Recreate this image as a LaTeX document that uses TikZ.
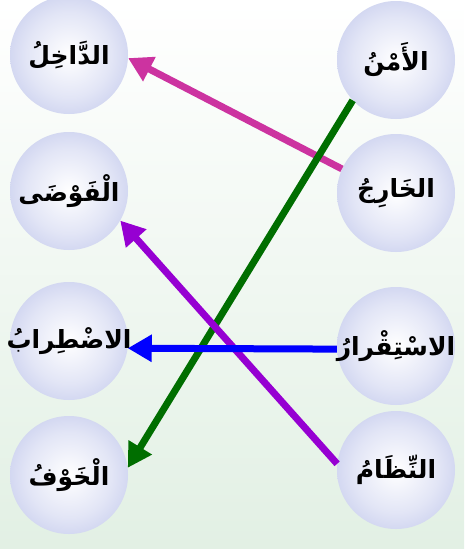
\documentclass[tikz,border=0pt]{standalone}
\usepackage{fontspec}
\newfontfamily\arabicfont[Script=Arabic]{DejaVu Sans}
\TeXXeTstate=1
\usetikzlibrary{arrows.meta}
\definecolor{bubblelav}{RGB}{160,170,225}
\definecolor{bgreen}{RGB}{226,240,228}
\definecolor{linkmagenta}{RGB}{204,51,160}
\definecolor{linkgreen}{RGB}{0,110,0}
\definecolor{linkpurple}{RGB}{150,0,210}
\definecolor{linkblue}{RGB}{0,0,255}
\pgfdeclareradialshading{bubble}{\pgfpoint{0bp}{0bp}}{color(0bp)=(white); color(18bp)=(bubblelav!30); color(38bp)=(bubblelav!75); color(50bp)=(bubblelav)}

\begin{document}
\begin{tikzpicture}[
        x=1pt, y=-1pt,
        word/.style={circle, minimum size=118pt, inner sep=-20pt, shading=bubble, font=\arabicfont\bfseries\fontsize{25}{29}\selectfont},
        arrow/.style={-{Triangle[length=24pt,width=26pt]}, line width=7pt}
    ]
        \useasboundingbox (0,0) rectangle (464,549);
        % Background
        \fill[top color=white, bottom color=bgreen] (0,0) rectangle (464,549);

        % Left column
        \node[word] (dakhil) at (69,55) {\beginR الدَّاخِلُ\endR};
        \node[word] (fawda) at (69,191) {\beginR الْفَوْضَى\endR};
        \node[word] (idtirab) at (69,341) {\beginR الاضْطِرابُ\endR};
        \node[word] (khawf) at (69,475) {\beginR الْخَوْفُ\endR};

        % Right column
        \node[word] (amn) at (396,60) {\beginR الأَمْنُ\endR};
        \node[word] (kharij) at (396,193) {\beginR الخَارِجُ\endR};
        \node[word] (istiqrar) at (396,346) {\beginR الاسْتِقْرارُ\endR};
        \node[word] (nizam) at (396,470) {\beginR النِّظَامُ\endR};

        % Links
        \draw[arrow, linkmagenta] (kharij.156) -- (dakhil.-3);
        \draw[arrow, linkgreen] (amn.223) -- (khawf.7);
        \draw[arrow, linkpurple] (nizam.174) -- (fawda.-30);
        \draw[arrow, linkblue] (istiqrar.183) -- (idtirab.-7);
    \end{tikzpicture}
\end{document}
